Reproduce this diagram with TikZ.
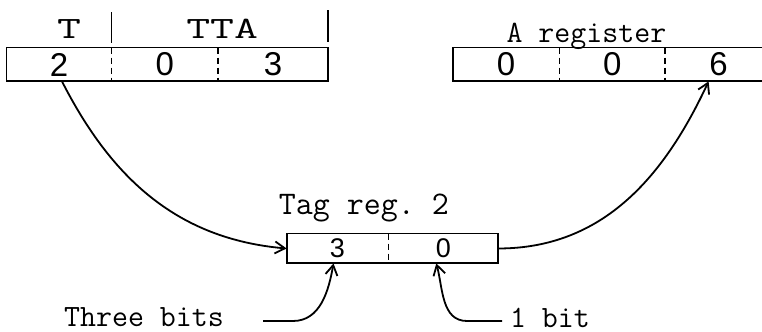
\documentclass[tikz,border=0pt]{standalone}
\usepackage{fontspec}
\usepackage{graphicx}
\newfontfamily\digitfont{Liberation Sans}
\usetikzlibrary{calc}
\usetikzlibrary{positioning}
\usetikzlibrary{arrows.meta}
\tikzset{
cell/.style={inner sep=0pt,minimum height=16.5pt,font=\digitfont\fontsize{16.5}{18}\selectfont},
tagcell/.style={inner sep=0pt,minimum height=14.5pt,font=\digitfont\fontsize{13.5}{15}\selectfont},
lbl/.style={inner sep=0pt,anchor=base,font=\ttfamily\fontsize{15.5}{18}\selectfont},
frame/.style={line width=0.9pt},
divider/.style={line width=0.8pt,dash pattern=on 3pt off 2pt},
link/.style={line width=0.9pt,-{Straight Barb[length=5pt,width=6pt]}},
}

\begin{document}
\begin{tikzpicture}[x=50pt,y=50pt]
\useasboundingbox (0,0) rectangle (7.62,3.32);
% T / TTA register
\node [cell,minimum width=52pt](t1) at (0.59,2.675){2};
\node [cell,minimum width=53pt,right=0pt of t1](t2){0};
\node [cell,minimum width=54.5pt,right=0pt of t2](t3){3};
\draw [frame](t1.north west) rectangle (t3.south east);
\draw [divider](t1.north east) -- (t1.south east);
\draw [divider](t2.north east) -- (t2.south east);
\draw [frame]($(t1.north east)+(0,0.05)$) -- ++(0,0.31);
\draw [frame]($(t3.north east)+(0,0.06)$) -- ++(0,0.32);
\node [lbl](tlab) at ($(t1.north)+(0.1,0.09)$){\scalebox{1.5}[1]{T}};
\node [lbl](ttalab) at ($(t2.north east)+(0.04,0.09)$){\scalebox{1.5}[1]{TTA}};
% A register
\node [cell,minimum width=53pt](a1) at (5.06,2.675){0};
\node [cell,minimum width=52.5pt,right=0pt of a1](a2){0};
\node [cell,minimum width=53pt,right=0pt of a2](a3){6};
\draw [frame](a1.north west) rectangle (a3.south east);
\draw [divider](a1.north east) -- (a1.south east);
\draw [divider](a2.north east) -- (a2.south east);
\node [lbl](alab) at ($(a2.north west)+(0.27,0.05)$){A register};
% tag register
\node [tagcell,minimum width=50.5pt](g1) at (3.375,0.835){3};
\node [tagcell,minimum width=54.5pt,right=0pt of g1](g2){0};
\draw [frame](g1.north west) rectangle (g2.south east);
\draw [divider](g1.north east) -- (g1.south east);
\node [lbl,font=\ttfamily\fontsize{16.5}{18}\selectfont](glab) at ($(g1.north east)+(-0.245,0.19)$){Tag reg.\ 2};
% bit labels
\node [lbl](three) at (1.44,0.05){Three bits};
\node [lbl](onebit) at (5.50,0.04){1 bit};
\coordinate (threeend) at (2.63,0.11);
\coordinate (oneend) at (5.02,0.11);
% connectors
\draw [link]([xshift=1.5pt]t1.south) to[out=-63,in=175] (g1.west);
\draw [link](g2.east) to[out=0,in=-115] ([xshift=-5pt]a3.south);
\draw [link](threeend) -- ++(0.3,0) to[out=0,in=-100] ([xshift=-2pt]g1.south);
\draw [link](oneend) -- ++(-0.35,0) to[out=180,in=-75] ([xshift=-3.5pt]g2.south);
\end{tikzpicture}
\end{document}
